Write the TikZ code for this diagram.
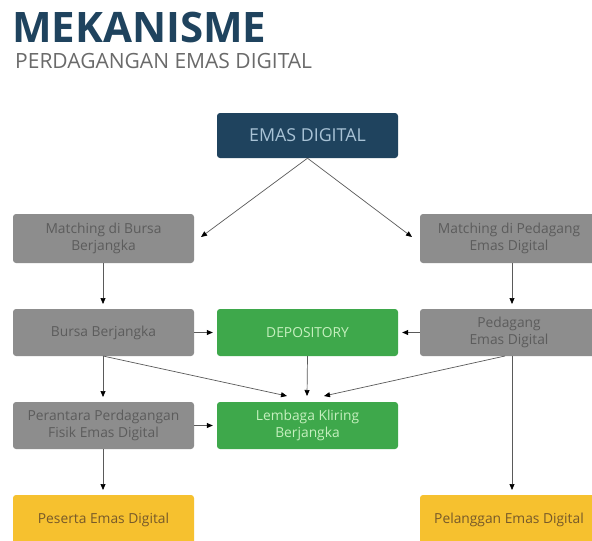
\documentclass[tikz,border=0pt]{standalone}
\usepackage{fontspec}
\setmainfont{Open Sans}
\usetikzlibrary{arrows.meta}
\definecolor{navy}{HTML}{1F435E}
\definecolor{navytxt}{HTML}{A9C3D6}
\definecolor{boxgray}{HTML}{8D8D8D}
\definecolor{txtgray}{HTML}{5C5C5C}
\definecolor{boxgreen}{HTML}{3EA84B}
\definecolor{txtgreen}{HTML}{C6F0BF}
\definecolor{boxyellow}{HTML}{F6C12F}
\definecolor{txtyellow}{HTML}{76592A}
\definecolor{subgray}{HTML}{6A6A6A}
\definecolor{linegray}{HTML}{5A5A5A}
\tikzset{
  x=1pt, y=-1pt,
  box/.style={rounded corners=3pt, inner sep=0pt, align=center, font=\fontsize{13.8}{17}\selectfont},
  graybox/.style={box, fill=boxgray, text=txtgray},
  greenbox/.style={box, fill=boxgreen, text=txtgreen},
  yellowbox/.style={box, fill=boxyellow, text=txtyellow},
  conn/.style={draw=linegray, line width=0.7pt, arrows={-{Triangle[length=6pt,width=5pt,color=black]}}},
}
\newcommand{\mybox}[7]{% name, style, x1,y1,x2,y2, text
  \path[#2] (#3,#4) rectangle (#5,#6);
  \node[#2, fill=none, minimum width={#5-#3}, minimum height={#6-#4}] (#1) at ({(#3+#5)/2},{(#4+#6)/2}) {#7};
}
\begin{document}
\begin{tikzpicture}
\useasboundingbox[fill=white] (0,0) rectangle (592,541);
\node[anchor=west, text=navy, font=\fontsize{42}{42}\selectfont\bfseries, inner sep=0pt] (title) at (12,27) {MEKANISME};
\node[anchor=west, text=subgray, font=\fontsize{21}{22}\selectfont, inner sep=0pt] (sub) at (15,61) {PERDAGANGAN EMAS DIGITAL};

\mybox{emas}{box, fill=navy, text=navytxt, font=\fontsize{17.8}{20}\selectfont}{217}{113}{398}{158}{EMAS DIGITAL}
\mybox{mbursa}{graybox}{13}{214}{194}{263}{Matching di Bursa\\Berjangka}
\mybox{mpedag}{graybox}{420}{214}{598}{263}{Matching di Pedagang\\Emas Digital}
\mybox{bursa}{graybox}{13}{309}{194}{356}{Bursa Berjangka}
\mybox{depo}{greenbox}{217}{309}{398}{356}{DEPOSITORY}
\mybox{pedag}{graybox}{420}{309}{598}{356}{Pedagang\\Emas Digital}
\mybox{peran}{graybox}{13}{402}{194}{449}{Perantara Perdagangan\\Fisik Emas Digital}
\mybox{lemb}{greenbox}{217}{402}{398}{449}{Lembaga Kliring\\Berjangka}
\mybox{pes}{yellowbox}{13}{495}{194}{545}{Peserta Emas Digital}
\mybox{pel}{yellowbox}{420}{495}{598}{545}{Pelanggan Emas Digital}

\coordinate (mbR) at (201,237);
\coordinate (mpL) at (412,237);
\draw[conn] (emas.south) -- (mbR);
\draw[conn] (emas.south) -- (mpL);
\draw[conn] (103,263) -- (103,304);
\draw[conn] (512,263) -- (512,304);
\draw[conn] (bursa.east) -- ([xshift=-4pt]depo.west);
\draw[conn] (pedag.west) -- ([xshift=4pt]depo.east);
\draw[conn] (103,356) -- (103,397);
\draw[conn] (103,356) -- (287,396);
\draw[conn] (depo.south) -- (307,396);
\draw[conn] (505,356) -- (324,396);
\draw[conn] (peran.east) -- ([xshift=-4pt]lemb.west);
\draw[conn] (103,449) -- (103,490);
\draw[conn] (512,356) -- (512,490);
\end{tikzpicture}
\end{document}
